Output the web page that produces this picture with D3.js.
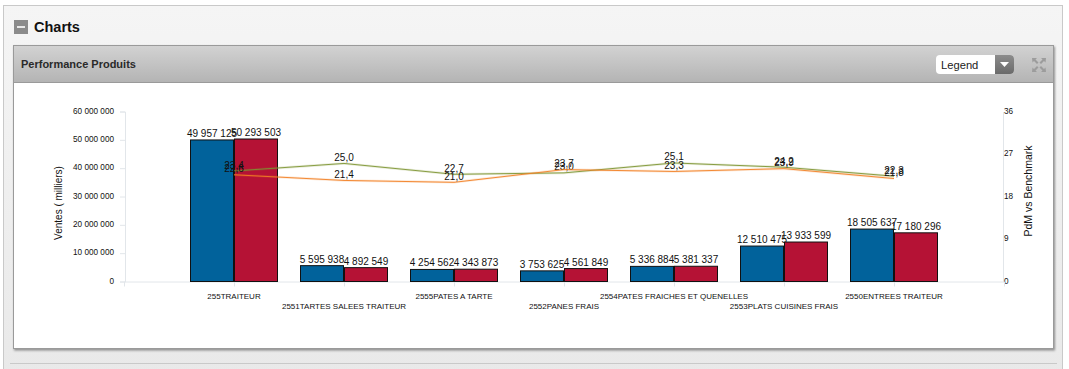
<!DOCTYPE html>
<html><head><meta charset="utf-8">
<script src="https://cdn.jsdelivr.net/npm/d3@7/dist/d3.min.js"></script>
<style>html,body{margin:0;padding:0;background:#fff;overflow:hidden}svg{display:block}text{font-family:"Liberation Sans",Arial,sans-serif}</style>
</head><body><svg id="c" width="1069" height="369"></svg>
<script>
const categories=["255TRAITEUR","2551TARTES SALEES TRAITEUR","2555PATES A TARTE","2552PANES FRAIS","2554PATES FRAICHES ET QUENELLES","2553PLATS CUISINES FRAIS","2550ENTREES TRAITEUR"];
const ventesA=[49957125,5595938,4254562,3753625,5336884,12510475,18505637];
const ventesB=[50293503,4892549,4343873,4561849,5381337,13933599,17180296];
const pdm=[23.4,25.0,22.7,23.0,25.1,24.2,22.3];
const benchmark=[22.6,21.4,21.0,23.7,23.3,23.9,21.8];
const leftTicks=[0,10000000,20000000,30000000,40000000,50000000,60000000];
const rightTicks=[0,9,18,27,36];

const svg=d3.select("#c");
const defs=svg.append("defs");
function grad(id,stops){const g=defs.append("linearGradient").attr("id",id).attr("x1",0).attr("x2",0).attr("y1",0).attr("y2",1);
 stops.forEach(([o,c])=>g.append("stop").attr("offset",o).attr("stop-color",c));}
grad("bg",[[0,"#f5f5f5"],[1,"#e9e9e9"]]);
grad("hd",[[0,"#d2d2d2"],[1,"#b4b4b4"]]);
grad("dd",[[0,"#8c8c8c"],[1,"#6a6a6a"]]);
const sh=defs.append("filter").attr("id","sh").attr("x","-2%").attr("y","-2%").attr("width","104%").attr("height","104%");
sh.append("feDropShadow").attr("dx",1).attr("dy",1.5).attr("stdDeviation",1.2).attr("flood-color","#000").attr("flood-opacity",.4);

// page chrome
svg.append("rect").attr("x",3.5).attr("y",5.5).attr("width",1059).attr("height",370).attr("fill","url(#bg)").attr("stroke","#c9c9c9");
svg.append("line").attr("x1",10).attr("x2",1057).attr("y1",363.5).attr("y2",363.5).attr("stroke","#c9c9c9");
svg.append("rect").attr("x",14).attr("y",20).attr("width",14).attr("height",14).attr("fill","#8b8b8b");
svg.append("rect").attr("x",17).attr("y",26).attr("width",8).attr("height",2).attr("fill","#e8e8e8");
svg.append("text").attr("x",34).attr("y",32).attr("font-size",14.5).attr("font-weight","bold").attr("fill","#111").text("Charts");
svg.append("rect").attr("x",13.5).attr("y",45.5).attr("width",1040).attr("height",303).attr("fill","#fff").attr("stroke","#9a9a9a").attr("filter","url(#sh)");
svg.append("rect").attr("x",14).attr("y",46).attr("width",1039).attr("height",36).attr("fill","url(#hd)");
svg.append("line").attr("x1",14).attr("x2",1053).attr("y1",82.5).attr("y2",82.5).attr("stroke","#9a9a9a");
svg.append("text").attr("x",21).attr("y",68).attr("font-size",11).attr("font-weight","bold").attr("fill","#2a2a2a").text("Performance Produits");
// legend dropdown
svg.append("rect").attr("x",936).attr("y",55).attr("width",78).attr("height",19).attr("rx",4).attr("fill","#fff");
svg.append("path").attr("d","M995 55h15a4 4 0 0 1 4 4v11a4 4 0 0 1-4 4h-15z").attr("fill","url(#dd)");
svg.append("path").attr("d","M1000 62h9l-4.5 5z").attr("fill","#fff");
svg.append("text").attr("x",941).attr("y",69).attr("font-size",11.2).attr("fill","#222").text("Legend");
// expand icon
[[1032,58,1],[1046,58,-1],[1032,72,1],[1046,72,-1]].forEach(([x,y,s],i)=>{
 const v=i<2?1:-1;
 svg.append("path").attr("d",`M${x} ${y}h${s*5}l${-s*1.5} ${v*1.5}l${s*3} ${v*3}l${-s*1.5} ${v*1.5}l${-s*3} ${-v*3}l${-s*1.5} ${v*1.5}z`).attr("fill","#9c9c9c");
});

// chart
const x=d3.scalePoint().domain(categories).range([124,1004]).padding(1);
const barW=44;
const yL=d3.scaleLinear().domain([0,60000000]).range([281.5,111.5]);
const yR=d3.scaleLinear().domain([0,36]).range([281.5,111.5]);
const fmtN=d=>d3.format(",")(d).replace(/,/g," ");
const fmtD=d=>d3.format(".1f")(d).replace(".",",");

const axL=svg.append("g").attr("transform","translate(125,0)").call(d3.axisLeft(yL).tickValues(leftTicks).tickFormat(fmtN).tickSize(5).tickPadding(6));
axL.selectAll("text").attr("font-size",8.2).attr("dy","0.2em").attr("fill","#111");
axL.selectAll("line,path").attr("stroke","#e2e6ea");
const axR=svg.append("g").attr("transform","translate(1003,0)").call(d3.axisRight(yR).tickValues(rightTicks).tickSize(0).tickPadding(1));
axR.selectAll("text").attr("font-size",8.2).attr("dy","0.2em").attr("fill","#111");
axR.selectAll("line,path").attr("stroke","#e2e6ea");
const axB=svg.append("g").attr("transform","translate(0,281.5)").call(d3.axisBottom(x).tickSize(5).tickFormat(""));
axB.selectAll("line,path").attr("stroke","#e2e6ea");
svg.selectAll(".cat").data(categories).join("text").attr("class","cat")
 .attr("x",d=>x(d)).attr("y",(d,i)=>i%2?309:299).attr("dy",-0.5).attr("text-anchor","middle").attr("font-size",8).attr("fill","#111").text(d=>d);

svg.append("text").attr("transform","translate(62,203) rotate(-90)").attr("text-anchor","middle").attr("font-size",10).attr("fill","#111").text("Ventes ( milliers)");
svg.append("text").attr("transform","translate(1032,191) rotate(-90)").attr("text-anchor","middle").attr("font-size",10.5).attr("fill","#111").text("PdM vs Benchmark");

function bars(vals,cls,col,off){
 svg.selectAll("."+cls).data(vals).join("rect").attr("class",cls)
  .attr("x",(d,i)=>x(categories[i])+off+.5).attr("width",barW-1)
  .attr("y",d=>yL(d)).attr("height",d=>yL(0)-yL(d))
  .attr("fill",col).attr("stroke","#111");
 svg.selectAll("."+cls+"l").data(vals).join("text").attr("class",cls+"l")
  .attr("x",(d,i)=>x(categories[i])+off+barW/2).attr("y",d=>yL(d)-3)
  .attr("text-anchor","middle").attr("font-size",10).attr("fill","#111").text(fmtN);
}
bars(ventesA,"ba","#01629b",-barW);
bars(ventesB,"bb","#b51235",0);

function series(vals,cls,col){
 const ln=d3.line().x((d,i)=>x(categories[i])).y(d=>yR(d));
 svg.append("path").datum(vals).attr("fill","none").attr("stroke",col).attr("stroke-opacity",.18).attr("stroke-width",2.5).attr("d",ln);
 svg.append("path").datum(vals).attr("fill","none").attr("stroke",col).attr("stroke-width",.9).attr("d",ln);
 svg.selectAll("."+cls).data(vals).join("text").attr("class",cls)
  .attr("x",(d,i)=>x(categories[i])).attr("y",d=>yR(d)-2.5)
  .attr("text-anchor","middle").attr("font-size",10).attr("fill","#111").text(fmtD);
}
series(pdm,"lp","#7d9431");
series(benchmark,"lb","#f27f22");
</script></body></html>
